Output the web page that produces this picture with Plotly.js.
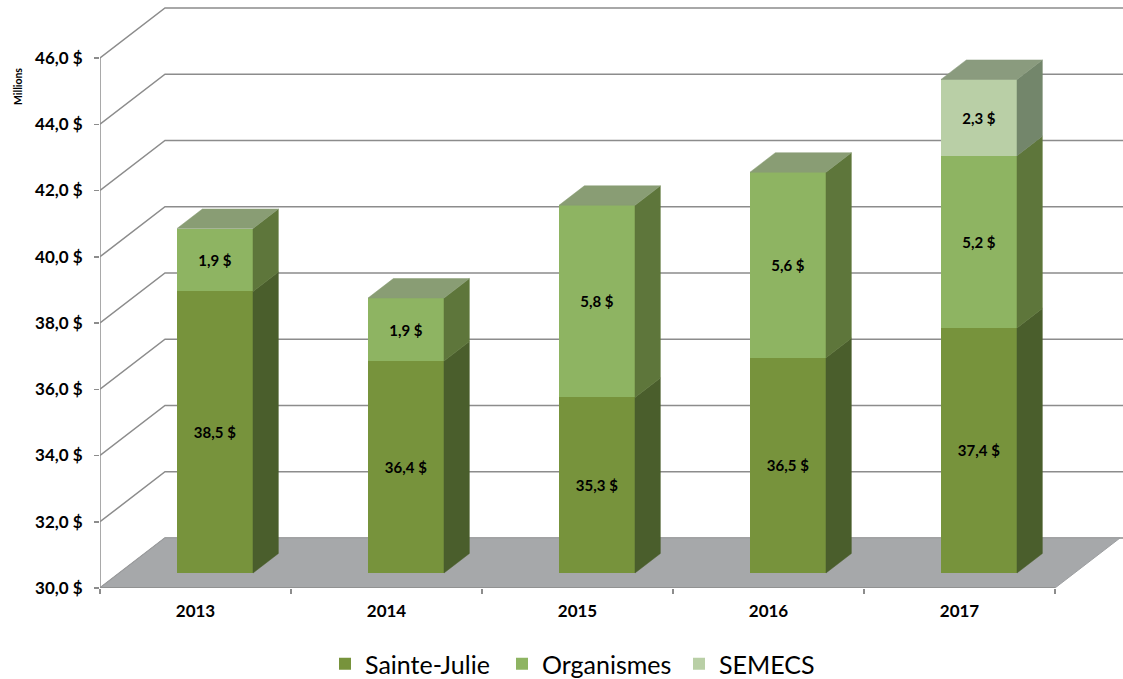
<!DOCTYPE html>
<html>
<head>
<meta charset="utf-8">
<script src="https://cdn.plot.ly/plotly-3.0.1.min.js"></script>
<style>html,body{margin:0;padding:0;background:#fff;}#chart{width:1123px;height:679px;}</style>
</head>
<body>
<div id="chart"></div>
<script>
// ---- data ----
const years = ['2013', '2014', '2015', '2016', '2017'];
const sainteJulie = [38.5, 36.4, 35.3, 36.5, 37.4];
const organismes = [1.9, 1.9, 5.8, 5.6, 5.2];
const semecs = [0, 0, 0, 0, 2.3];
const yTicks = [30, 32, 34, 36, 38, 40, 42, 44, 46];
const seriesNames = ['Sainte-Julie', 'Organismes', 'SEMECS'];

// ---- geometry / style ----
const FONT = 'Lato, "Open Sans", sans-serif';
const W = 1123, H = 679;
const M = {l: 100, r: 0, t: 0, b: 91};
const pxPerCat = 191, pxPerVal = 33.125;
const plotW = W - M.l - M.r, plotH = H - M.t - M.b;
const xRange = [-0.5, -0.5 + plotW / pxPerCat];
const yMin = 30;
const yRange = [yMin, yMin + plotH / pxPerVal];
const floorDX = 65 / pxPerCat, floorDY = 50 / pxPerVal;      // depth vector in data units
const frontF = 0.3, depthF = 0.39;                           // bar position in depth
const barW = 76 / pxPerCat;
const offX = frontF * floorDX, offY = frontF * floorDY;
const bdx = depthF * floorDX, bdy = depthF * floorDY;

const frontCol = ['#77933C', '#8EB462', '#B9CFA6'];
const sideCol  = ['#4A5E2C', '#5E763B', '#73866B'];
const topCol   = ['#6E8650', '#899D74', '#8A9B7E'];
const gridCol = '#8C8C8C';

const series = [sainteJulie, organismes, semecs];
const fmt = v => v.toFixed(1).replace('.', ',') + ' $';

const traces = [];
const xc = years.map((_, i) => i + offX);
const cum = years.map(() => 0);
const sideX = [[], [], []], sideY = [[], [], []];
const topX = [[], [], []], topY = [[], [], []];
const totals = years.map((_, i) => series.reduce((s, a) => s + a[i], 0));

series.forEach((vals, s) => {
  const lo = [], len = [];
  vals.forEach((v, i) => {
    const c0 = cum[i], c1 = cum[i] + v;
    const b = Math.max(c0, yMin);
    lo.push(b + offY);
    len.push(Math.max(c1 - b, 0));
    if (v > 0) {
      const xr = xc[i] + barW / 2, xl = xc[i] - barW / 2;
      const yb = b + offY, yt = c1 + offY;
      sideX[s].push(xr, xr + bdx, xr + bdx, xr, xr, null);
      sideY[s].push(yb, yb + bdy, yt + bdy, yt, yb, null);
      if (Math.abs(c1 - totals[i]) < 1e-9) {
        topX[s].push(xl, xr, xr + bdx, xl + bdx, xl, null);
        topY[s].push(yt, yt, yt + bdy, yt + bdy, yt, null);
      }
    }
    cum[i] = c1;
  });
  traces.push({
    type: 'bar', name: seriesNames[s], x: xc, y: len, base: lo, width: barW,
    marker: {color: frontCol[s], line: {width: 0}},
    text: vals.map(v => v > 0 ? fmt(v) : ''),
    textposition: 'inside', insidetextanchor: 'middle', textangle: 0,
    constraintext: 'none',
    textfont: {family: FONT, size: 15, color: '#000000', weight: 'bold'},
    hoverinfo: 'skip'
  });
});

for (let s = 0; s < 3; s++) {
  if (sideX[s].length) traces.push({
    type: 'scatter', mode: 'lines', x: sideX[s], y: sideY[s], fill: 'toself',
    fillcolor: sideCol[s], line: {color: sideCol[s], width: 0.5},
    showlegend: false, hoverinfo: 'skip'
  });
  if (topX[s].length) traces.push({
    type: 'scatter', mode: 'lines', x: topX[s], y: topY[s], fill: 'toself',
    fillcolor: topCol[s], line: {color: topCol[s], width: 0.5},
    showlegend: false, hoverinfo: 'skip'
  });
}

// back wall gridlines + floor + front axis lines as shapes (below traces)
const shapes = [];
const xL = -0.5, xR = years.length - 0.5;
yTicks.forEach(v => {
  shapes.push({
    type: 'path', layer: 'below', xref: 'x', yref: 'y',
    path: `M ${xL},${v} L ${xL + floorDX},${v + floorDY} L ${xRange[1] + 1},${v + floorDY}`,
    line: {color: gridCol, width: 1.5}
  });
});
shapes.push({
  type: 'path', layer: 'below', xref: 'x', yref: 'y',
  path: `M ${xL},${yMin} L ${xR},${yMin} L ${xR + floorDX},${yMin + floorDY} L ${xL + floorDX},${yMin + floorDY} Z`,
  fillcolor: '#A6A8AA', line: {color: '#9C9EA0', width: 1}
});
shapes.push({type: 'line', layer: 'below', xref: 'x', yref: 'y',
  x0: xL, x1: xL, y0: yMin, y1: yTicks[yTicks.length - 1], line: {color: gridCol, width: 1.5}});
shapes.push({type: 'line', layer: 'below', xref: 'x', yref: 'y',
  x0: xL, x1: xR, y0: yMin, y1: yMin, line: {color: gridCol, width: 1.5}});

const layout = {
  width: W, height: H, margin: M,
  paper_bgcolor: '#ffffff', plot_bgcolor: 'rgba(0,0,0,0)',
  barmode: 'overlay', bargap: 0,
  font: {family: FONT, color: '#000000'},
  xaxis: {
    type: 'linear', range: xRange, fixedrange: true,
    showgrid: false, zeroline: false, showline: false,
    tickmode: 'array', tickvals: years.map((_, i) => i), ticktext: years,
    ticks: '', ticklabelstandoff: 11,
    tickfont: {family: FONT, size: 17, color: '#000000', weight: 'bold'},
    minor: {tickmode: 'array', tickvals: years.map((_, i) => i - 0.5).concat([xR]),
      ticks: 'outside', ticklen: 5, tickcolor: gridCol, tickwidth: 1.5, showgrid: false}
  },
  yaxis: {
    range: yRange, fixedrange: true,
    showgrid: false, zeroline: false, showline: false,
    tickmode: 'array', tickvals: yTicks, ticktext: yTicks.map(fmt),
    ticks: 'outside', ticklen: 5, tickcolor: gridCol, tickwidth: 1.5,
    ticklabelstandoff: 8,
    tickfont: {family: FONT, size: 17, color: '#000000', weight: 'bold'}
  },
  shapes: shapes,
  annotations: [{
    text: 'Millions', textangle: -90, showarrow: false,
    xref: 'paper', yref: 'paper', x: (18 - M.l) / plotW, y: 1 - 87 / plotH,
    xanchor: 'center', yanchor: 'middle',
    font: {family: FONT, size: 10.5, color: '#000000', weight: 'bold'}
  }],
  legend: {
    orientation: 'h', xref: 'container', yref: 'container',
    x: 325 / W, y: 1 - 664 / H, xanchor: 'left', yanchor: 'middle',
    font: {family: FONT, size: 25, color: '#000000'},
    entrywidth: 132, entrywidthmode: 'pixels', traceorder: 'normal',
    bgcolor: 'rgba(0,0,0,0)'
  },
  showlegend: true
};

Plotly.newPlot('chart', traces, layout, {displayModeBar: false, staticPlot: true});
</script>
</body>
</html>
